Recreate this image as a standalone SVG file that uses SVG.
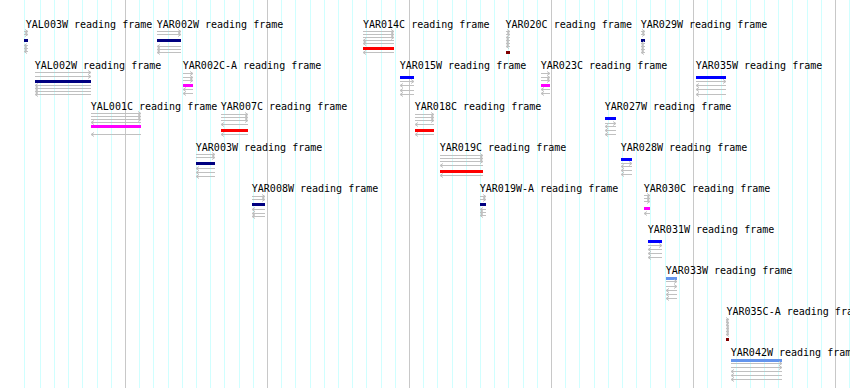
<svg xmlns="http://www.w3.org/2000/svg" width="850" height="388" viewBox="0 0 850 388">
<style>
.t{font-family:"DejaVu Sans Mono",monospace;font-size:10px;fill:#000}
.a{fill:none;stroke:#c0c0c0;stroke-width:1;marker-end:url(#ah)}
.cy{fill:none;stroke:#d0ffff;stroke-width:1}
.gy{fill:none;stroke:#c8c8c8;stroke-width:1}
.nv{fill:#000080}.bl{fill:#0000ff}.rd{fill:#ff0000}.mg{fill:#ff00ff}.mr{fill:#800000}.cb{fill:#6495ed}
</style>
<defs>
<marker id="ah" markerUnits="userSpaceOnUse" markerWidth="4" markerHeight="6" refX="3" refY="3" orient="auto" overflow="visible"><path d="M0 1L3 3L0 5" fill="none" stroke="#c0c0c0" stroke-width="1"/></marker>
</defs>
<rect width="850" height="388" fill="#fff"/>
<g id="grid">
<path class="cy" d="M24.5 0V388M40.5 0V388M54.5 0V388M68.5 0V388M82.5 0V388M97.5 0V388M111.5 0V388M139.5 0V388M153.5 0V388M168.5 0V388M182.5 0V388M196.5 0V388M210.5 0V388M224.5 0V388M239.5 0V388M253.5 0V388M281.5 0V388M295.5 0V388M310.5 0V388M324.5 0V388M338.5 0V388M352.5 0V388M366.5 0V388M381.5 0V388M395.5 0V388M423.5 0V388M437.5 0V388M452.5 0V388M466.5 0V388M480.5 0V388M494.5 0V388M508.5 0V388M523.5 0V388M537.5 0V388M565.5 0V388M579.5 0V388M594.5 0V388M608.5 0V388M622.5 0V388M636.5 0V388M650.5 0V388M665.5 0V388M679.5 0V388M707.5 0V388M721.5 0V388M736.5 0V388M750.5 0V388M764.5 0V388M778.5 0V388M792.5 0V388M807.5 0V388M821.5 0V388M849.5 0V388"/>
<path class="gy" d="M125.5 0V388M267.5 0V388M409.5 0V388M551.5 0V388M693.5 0V388M835.5 0V388"/>
</g>
<g id="YAL003W"><text class="t" x="25.8" y="27.5">YAL003W reading frame</text>
<path class="a" d="M24 31.5H28"/><path class="a" d="M24 34.5H28"/><rect class="nv" x="24" y="39" width="4" height="3"/><path class="a" d="M28 45.5H24"/><path class="a" d="M28 48.5H24"/><path class="a" d="M28 51.5H24"/></g>
<g id="YAR002W"><text class="t" x="156.8" y="27.5">YAR002W reading frame</text>
<path class="a" d="M157 31.5H181"/><path class="a" d="M157 34.5H181"/><rect class="nv" x="157" y="39" width="24" height="3"/><path class="a" d="M181 46.5H157"/><path class="a" d="M181 49.5H157"/><path class="a" d="M181 52.5H157"/></g>
<g id="YAR014C"><text class="t" x="363" y="27.5">YAR014C reading frame</text>
<path class="a" d="M363 31.5H394"/><path class="a" d="M363 34.5H394"/><path class="a" d="M363 37.5H394"/><path class="a" d="M394 40.5H363"/><path class="a" d="M394 43.5H363"/><rect class="rd" x="363" y="47" width="31" height="3"/><path class="a" d="M394 52.5H363"/></g>
<g id="YAR020C"><text class="t" x="505.5" y="27.5">YAR020C reading frame</text>
<path class="a" d="M506 31.5H510"/><path class="a" d="M506 34.5H510"/><path class="a" d="M510 37.5H506"/><path class="a" d="M510 40.5H506"/><path class="a" d="M510 43.5H506"/><path class="a" d="M510 46.5H506"/><rect class="mr" x="506" y="51" width="4" height="3"/></g>
<g id="YAR029W"><text class="t" x="640.8" y="27.5">YAR029W reading frame</text>
<path class="a" d="M641 31.5H645"/><path class="a" d="M641 34.5H645"/><rect class="nv" x="641" y="39" width="4" height="3"/><path class="a" d="M645 43.5H641"/><path class="a" d="M645 46.5H641"/><path class="a" d="M645 49.5H641"/><path class="a" d="M645 52.5H641"/></g>
<g id="YAL002W"><text class="t" x="34.8" y="68.5">YAL002W reading frame</text>
<path class="a" d="M35 72.5H91"/><path class="a" d="M35 76.5H91"/><rect class="nv" x="35" y="80" width="56" height="3"/><path class="a" d="M91 85.5H35"/><path class="a" d="M91 88.5H35"/><path class="a" d="M91 91.5H35"/><path class="a" d="M91 94.5H35"/></g>
<g id="YAR002C-A"><text class="t" x="182.8" y="68.5">YAR002C-A reading frame</text>
<path class="a" d="M183 73.5H193"/><path class="a" d="M183 77.5H193"/><path class="a" d="M183 80.5H193"/><rect class="mg" x="183" y="84" width="10" height="3"/><path class="a" d="M193 89.5H183"/><path class="a" d="M193 93.5H183"/></g>
<g id="YAR015W"><text class="t" x="399.8" y="68.5">YAR015W reading frame</text>
<rect class="bl" x="400" y="76" width="14" height="3"/><path class="a" d="M400 81.5H414"/><path class="a" d="M414 85.5H400"/><path class="a" d="M414 90.5H400"/><path class="a" d="M414 94.5H400"/></g>
<g id="YAR023C"><text class="t" x="540.8" y="68.5">YAR023C reading frame</text>
<path class="a" d="M541 73.5H550"/><path class="a" d="M541 77.5H550"/><path class="a" d="M541 80.5H550"/><rect class="mg" x="541" y="84" width="9" height="3"/><path class="a" d="M550 89.5H541"/><path class="a" d="M550 93.5H541"/></g>
<g id="YAR035W"><text class="t" x="695.8" y="68.5">YAR035W reading frame</text>
<rect class="bl" x="696" y="76" width="30" height="3"/><path class="a" d="M696 81.5H726"/><path class="a" d="M726 85.5H696"/><path class="a" d="M726 89.5H696"/><path class="a" d="M726 94.5H696"/></g>
<g id="YAL001C"><text class="t" x="90.8" y="109.5">YAL001C reading frame</text>
<path class="a" d="M91 113.5H141"/><path class="a" d="M91 116.5H141"/><path class="a" d="M91 119.5H141"/><path class="a" d="M141 122.5H91"/><rect class="mg" x="91" y="125" width="50" height="3"/><path class="a" d="M141 134.5H91"/></g>
<g id="YAR007C"><text class="t" x="220.8" y="109.5">YAR007C reading frame</text>
<path class="a" d="M221 114.5H248"/><path class="a" d="M221 117.5H248"/><path class="a" d="M221 120.5H248"/><path class="a" d="M248 124.5H221"/><rect class="rd" x="221" y="129" width="27" height="3"/><path class="a" d="M248 134.5H221"/></g>
<g id="YAR018C"><text class="t" x="414.8" y="109.5">YAR018C reading frame</text>
<path class="a" d="M415 114.5H434"/><path class="a" d="M415 117.5H434"/><path class="a" d="M415 120.5H434"/><path class="a" d="M434 124.5H415"/><rect class="rd" x="415" y="129" width="19" height="3"/><path class="a" d="M434 134.5H415"/></g>
<g id="YAR027W"><text class="t" x="604.8" y="109.5">YAR027W reading frame</text>
<rect class="bl" x="605" y="117" width="11" height="3"/><path class="a" d="M605 123.5H616"/><path class="a" d="M616 126.5H605"/><path class="a" d="M616 130.5H605"/><path class="a" d="M616 134.5H605"/></g>
<g id="YAR003W"><text class="t" x="195.8" y="150.5">YAR003W reading frame</text>
<path class="a" d="M196 154.5H215"/><path class="a" d="M196 157.5H215"/><rect class="nv" x="196" y="162" width="19" height="3"/><path class="a" d="M215 168.5H196"/><path class="a" d="M215 172.5H196"/><path class="a" d="M215 176.5H196"/></g>
<g id="YAR019C"><text class="t" x="439.8" y="150.5">YAR019C reading frame</text>
<path class="a" d="M440 155.5H483"/><path class="a" d="M440 158.5H483"/><path class="a" d="M440 161.5H483"/><path class="a" d="M483 165.5H440"/><rect class="rd" x="440" y="170" width="43" height="3"/><path class="a" d="M483 175.5H440"/></g>
<g id="YAR028W"><text class="t" x="620.8" y="150.5">YAR028W reading frame</text>
<rect class="bl" x="621" y="158" width="11" height="3"/><path class="a" d="M621 163.5H632"/><path class="a" d="M632 166.5H621"/><path class="a" d="M632 170.5H621"/><path class="a" d="M632 174.5H621"/></g>
<g id="YAR008W"><text class="t" x="251.8" y="191.5">YAR008W reading frame</text>
<path class="a" d="M252 196.5H265"/><path class="a" d="M252 199.5H265"/><rect class="nv" x="252" y="203" width="13" height="3"/><path class="a" d="M265 209.5H252"/><path class="a" d="M265 213.5H252"/><path class="a" d="M265 216.5H252"/></g>
<g id="YAR019W-A"><text class="t" x="479.8" y="191.5">YAR019W-A reading frame</text>
<path class="a" d="M480 196.5H486"/><path class="a" d="M480 199.5H486"/><rect class="nv" x="480" y="203" width="6" height="3"/><path class="a" d="M486 209.5H480"/><path class="a" d="M486 212.5H480"/><path class="a" d="M486 215.5H480"/></g>
<g id="YAR030C"><text class="t" x="643.8" y="191.5">YAR030C reading frame</text>
<path class="a" d="M644 195.5H650"/><path class="a" d="M644 198.5H650"/><path class="a" d="M644 201.5H650"/><rect class="mg" x="644" y="207" width="6" height="3"/><path class="a" d="M650 213.5H644"/></g>
<g id="YAR031W"><text class="t" x="647.8" y="232.5">YAR031W reading frame</text>
<rect class="bl" x="648" y="240" width="14" height="3"/><path class="a" d="M648 245.5H662"/><path class="a" d="M662 249.5H648"/><path class="a" d="M662 253.5H648"/><path class="a" d="M662 257.5H648"/></g>
<g id="YAR033W"><text class="t" x="665.8" y="273.5">YAR033W reading frame</text>
<rect class="cb" x="666" y="277" width="11" height="3"/><path class="a" d="M666 281.5H677"/><path class="a" d="M666 286.5H677"/><path class="a" d="M677 290.5H666"/><path class="a" d="M677 294.5H666"/><path class="a" d="M677 298.5H666"/></g>
<g id="YAR035C-A"><text class="t" x="726.5" y="314.5">YAR035C-A reading frame</text>
<path class="a" d="M726 319.5H729"/><path class="a" d="M726 322.5H729"/><path class="a" d="M729 325.5H726"/><path class="a" d="M729 328.5H726"/><path class="a" d="M729 331.5H726"/><path class="a" d="M729 334.5H726"/><rect class="mr" x="726" y="338" width="3" height="3"/></g>
<g id="YAR042W"><text class="t" x="730.8" y="355.5">YAR042W reading frame</text>
<rect class="cb" x="731" y="359" width="51" height="3"/><path class="a" d="M731 363.5H782"/><path class="a" d="M731 367.5H782"/><path class="a" d="M782 371.5H731"/><path class="a" d="M782 375.5H731"/><path class="a" d="M782 379.5H731"/></g>
</svg>
